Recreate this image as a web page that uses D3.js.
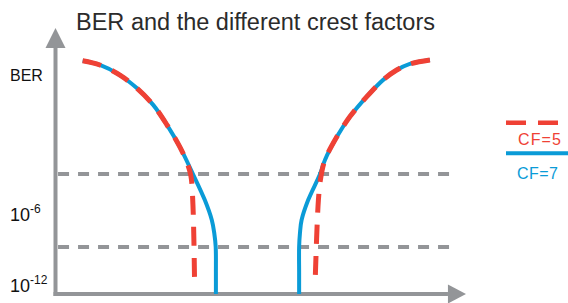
<!DOCTYPE html>
<html>
<head>
<meta charset="utf-8">
<script src="https://cdn.jsdelivr.net/npm/d3@7"></script>
<style>
body { margin:0; background:#fff; }
svg { display:block; font-family:"Liberation Sans Narrow","Liberation Sans",Arial,sans-serif; }
</style>
</head>
<body>
<svg id="chart"></svg>
<script>
// curve points, x and y in arbitrary 0..100 units
var cf7Left = [[6.5,87.7],[10.7,86.1],[15.6,82.3],[19.7,77.4],[23.7,71.1],[27.1,63.5],[30.2,55.3],
               [33.4,45.1],[36.3,35.3],[38.0,27.8],[38.6,22.9],[38.95,17.7],[39.0,8],[39.0,0]];
var cf5Left = [[6.5,87.7],[10.7,86.1],[15.6,82.3],[19.7,77.4],[23.7,71.1],[27.1,63.5],[30.2,55.3],
               [32.0,49.2],[32.9,44.4],[33.4,33.5],[33.8,4.1]];
var cf7Right = [[91.2,88.0],[86.3,86.5],[83.1,84.2],[79.8,80.5],[75.8,74.2],[71.7,66.7],[68.5,59.1],
                [65.6,50.4],[64.4,45.1],[61.5,35.3],[59.9,27.8],[59.5,22.9],[59.3,17.7],[59.3,8],[59.3,0]];
var cf5Right = [[91.2,88.0],[86.3,86.5],[83.1,84.2],[79.8,80.5],[75.8,74.2],[71.7,66.7],[68.5,59.1],
                [65.6,50.4],[64.6,44.0],[64.0,35.3],[63.2,4.1]];
var gridLevels = [45.1,17.7];
var tickLabels = [{y:80,base:"BER",exp:""},{y:27.4,base:"10",exp:"-6"},{y:0.6,base:"10",exp:"-12"}];
var seriesNames = ["CF=5","CF=7"];

var width = 568, height = 303;
var red = "#ef4135", blue = "#0a9bd7", gray = "#939598";

var svg = d3.select("#chart").attr("width",width).attr("height",height);

var xScale = d3.scaleLinear().domain([0,100]).range([56,466]);
var yScale = d3.scaleLinear().domain([0,100]).range([294,28]);

// title
svg.append("text")
    .text("BER and the different crest factors")
    .attr("x",76).attr("y",30)
    .attr("font-size",23)
    .attr("fill","#2b2b2b")
    .attr("textLength",359)
    .attr("lengthAdjust","spacingAndGlyphs");

// dashed reference lines
svg.selectAll("line.grid")
    .data(gridLevels)
    .enter()
    .append("line")
    .classed("grid",true)
    .attr("x1",xScale(0.5)).attr("x2",xScale(96.6))
    .attr("y1",function(d){return yScale(d);})
    .attr("y2",function(d){return yScale(d);})
    .attr("stroke",gray).attr("stroke-width",4)
    .attr("stroke-dasharray","11,9");

// axes with arrow heads
var axes = svg.append("g");
axes.append("line")
    .attr("x1",xScale(0)-0.5).attr("x2",xScale(0)-0.5)
    .attr("y1",yScale(0)+2).attr("y2",yScale(92.5))
    .attr("stroke",gray).attr("stroke-width",4);
axes.append("path")
    .attr("d","M"+(xScale(0)-10.5)+","+yScale(92.5)+"L"+(xScale(0)-0.5)+","+yScale(100)+"L"+(xScale(0)+9.5)+","+yScale(92.5)+"Z")
    .attr("fill",gray);
axes.append("line")
    .attr("x1",xScale(0)-2.5).attr("x2",xScale(95.6))
    .attr("y1",yScale(0)).attr("y2",yScale(0))
    .attr("stroke",gray).attr("stroke-width",4);
axes.append("path")
    .attr("d","M"+xScale(95.6)+","+(yScale(0)-9.5)+"L"+xScale(100)+","+yScale(0)+"L"+xScale(95.6)+","+(yScale(0)+9.5)+"Z")
    .attr("fill",gray);

// y labels
var labels = svg.selectAll("text.tick")
    .data(tickLabels)
    .enter()
    .append("text")
    .classed("tick",true)
    .attr("x",10)
    .attr("y",function(d){return yScale(d.y);})
    .attr("fill","#111")
    .attr("font-family","'Liberation Sans',Arial,sans-serif");
labels.append("tspan")
    .text(function(d){return d.base;})
    .attr("font-size",function(d){return d.exp ? 18 : 16;});
labels.append("tspan")
    .text(function(d){return d.exp;})
    .attr("font-size",12)
    .attr("dy",-8);

// curves
var line = d3.line()
    .x(function(d){return xScale(d[0]);})
    .y(function(d){return yScale(d[1]);})
    .curve(d3.curveCatmullRom.alpha(0.5));

svg.selectAll("path.cf7")
    .data([cf7Left,cf7Right])
    .enter()
    .append("path")
    .classed("cf7",true)
    .attr("d",line)
    .attr("fill","none")
    .attr("stroke",blue)
    .attr("stroke-width",4);

svg.selectAll("path.cf5")
    .data([cf5Left,cf5Right])
    .enter()
    .append("path")
    .classed("cf5",true)
    .attr("d",line)
    .attr("fill","none")
    .attr("stroke",red)
    .attr("stroke-width",5)
    .attr("stroke-dasharray","19,12");

// legend
var legend = svg.append("g");
legend.append("line")
    .attr("x1",506).attr("x2",558).attr("y1",122.7).attr("y2",122.7)
    .attr("stroke",red).attr("stroke-width",4.5).attr("stroke-dasharray","20,12");
legend.append("text")
    .text(seriesNames[0])
    .attr("x",518).attr("y",145)
    .attr("font-size",16).attr("fill",red)
    .attr("font-family","'Liberation Sans',Arial,sans-serif")
    .attr("textLength",43).attr("lengthAdjust","spacing");
legend.append("line")
    .attr("x1",506).attr("x2",568).attr("y1",153.3).attr("y2",153.3)
    .attr("stroke",blue).attr("stroke-width",4);
legend.append("text")
    .text(seriesNames[1])
    .attr("x",517).attr("y",179)
    .attr("font-size",16).attr("fill",blue)
    .attr("font-family","'Liberation Sans',Arial,sans-serif")
    .attr("textLength",41).attr("lengthAdjust","spacing");
</script>
</body>
</html>
